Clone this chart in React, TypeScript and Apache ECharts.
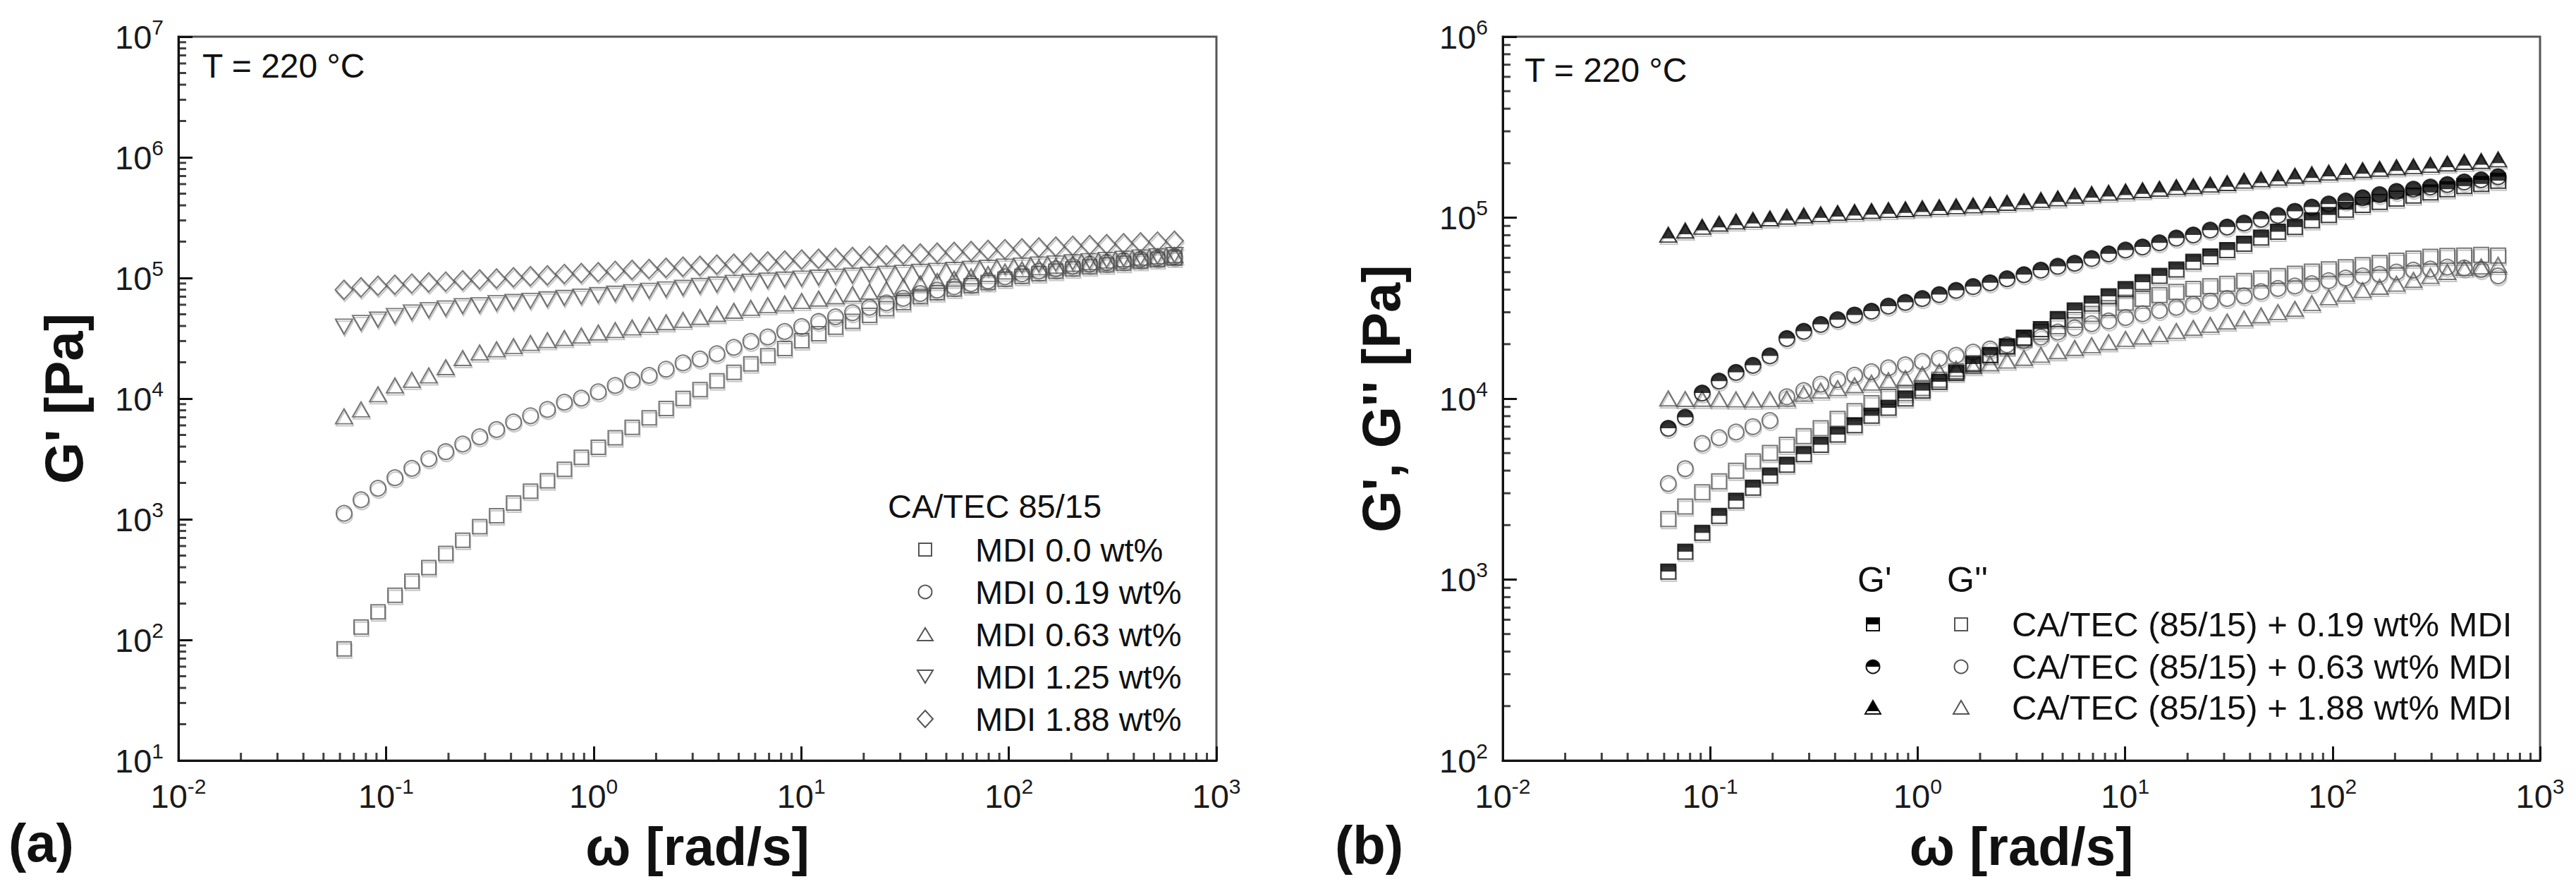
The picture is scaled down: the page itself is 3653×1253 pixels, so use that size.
import React, { useEffect, useRef } from 'react';
import * as echarts from 'echarts';

// ---------- data ----------
const OMEGA = [
  0.0628, 0.0758, 0.0915, 0.1104, 0.1332, 0.1607, 0.194, 0.2341, 0.2825, 0.3409,
  0.4114, 0.4965, 0.5991, 0.723, 0.8725, 1.053, 1.271, 1.533, 1.851, 2.234,
  2.696, 3.253, 3.926, 4.737, 5.717, 6.899, 8.326, 10.05, 12.13, 14.63,
  17.66, 21.31, 25.72, 31.03, 37.45, 45.19, 54.54, 65.81, 79.43, 95.85,
  115.7, 139.6, 168.5, 203.3, 245.3, 296.1, 357.3, 431.2, 520.3, 628.0,
];

// panel (a): G' of CA/TEC 85/15 with MDI
const A_MDI_000 = [
  84.3, 128, 171, 234, 307, 397, 521, 671, 869, 1070,
  1365, 1706, 2080, 2594, 3258, 3954, 4732, 5768, 6918, 8279,
  10050, 11890, 14060, 16520, 19410, 22650, 26000, 30130, 34510, 39080,
  43650, 48980, 55590, 62370, 69980, 75340, 80910, 86100, 91620, 97720,
  103000, 108400, 113500, 118900, 123600, 128200, 132400, 137100, 141600, 146200,
];
const A_MDI_019 = [
  1119, 1449, 1807, 2208, 2642, 3170, 3631, 4198, 4819, 5534,
  6397, 7211, 8128, 9333, 10090, 11380, 12850, 14220, 15560, 17540,
  19770, 21280, 23550, 26610, 29790, 32430, 35970, 39540, 43550, 47640,
  51520, 57150, 62090, 67760, 74300, 79250, 84530, 89540, 94410, 102100,
  108100, 114000, 119100, 124700, 130000, 134000, 138700, 142600, 146600, 150300,
];
const A_MDI_063 = [
  7129, 8128, 10860, 12850, 14320, 15560, 18200, 21680, 24100, 25640,
  27230, 28910, 30550, 31770, 33340, 35320, 36980, 38900, 40740, 42950,
  44980, 47530, 50350, 53460, 56490, 59430, 61520, 64420, 67450, 70470,
  73620, 77090, 80540, 85110, 90160, 94410, 98630, 103000, 107900, 113000,
  118000, 122500, 126200, 130900, 134900, 139300, 143200, 147200, 151000, 154500,
];
const A_MDI_125 = [
  39540, 42460, 45190, 48420, 51760, 54080, 55980, 58480, 59430, 61940,
  63240, 64710, 66530, 68390, 70150, 72110, 74130, 76210, 78340, 80540,
  82790, 85900, 88310, 91200, 93110, 95060, 97050, 98860, 100700, 102600,
  104500, 106400, 108400, 110400, 112500, 114600, 116700, 119100, 121600, 124200,
  126800, 129400, 132100, 134900, 138000, 141300, 144500, 147900, 151400, 154900,
];
const A_MDI_188 = [
  79800, 83750, 86300, 87900, 89950, 91830, 93330, 95720, 97270, 99080,
  101400, 103500, 105200, 107900, 109900, 111900, 114600, 116700, 118900, 121600,
  123900, 126200, 129100, 131500, 134000, 137100, 139600, 142200, 144500, 146900,
  149300, 152100, 154500, 157000, 159600, 162200, 164800, 167500, 170600, 173400,
  176200, 179100, 182000, 184900, 187900, 191000, 194100, 197200, 200400, 203700,
];

// panel (b): G' and G'' of CA/TEC (85/15) + MDI
const B_GP_019 = [
  1107, 1426, 1811, 2249, 2729, 3221, 3758, 4315, 4932, 5559,
  6324, 7129, 8035, 8892, 10020, 11070, 12390, 13870, 15520, 17380,
  19450, 21730, 24210, 27540, 30690, 33500, 36730, 40270, 43950, 47640,
  51640, 57020, 61090, 66220, 71780, 77620, 83560, 88720, 96600, 103500,
  110700, 117500, 122200, 127400, 132400, 137700, 143600, 149300, 153500, 160000,
];
const B_GPP_019 = [
  2158, 2535, 3034, 3491, 3990, 4498, 5012, 5559, 6194, 6855,
  7727, 8531, 9441, 10230, 10720, 11430, 12710, 14130, 15700, 17460,
  19410, 21480, 23330, 25120, 27230, 29380, 31620, 33880, 35650, 37330,
  38900, 40360, 41780, 43150, 44670, 46130, 47530, 48980, 50350, 51760,
  53210, 54700, 56230, 57810, 59430, 60810, 61380, 61660, 62230, 61660,
];
const B_GP_063 = [
  6855, 7889, 10740, 12500, 13960, 15280, 17220, 21480, 23550, 25700,
  27290, 28970, 30410, 32430, 34040, 35730, 37580, 39630, 41590, 43650,
  45920, 48420, 51290, 53830, 55980, 59430, 63100, 66220, 68870, 72610,
  77090, 80170, 85310, 88720, 93330, 97950, 102800, 108400, 114300, 118900,
  123600, 128800, 134000, 139600, 143600, 147600, 152400, 157400, 161800, 168300,
];
const B_GPP_063 = [
  3396, 4102, 5649, 6081, 6531, 6998, 7568, 10230, 11070, 12020,
  12740, 13460, 14090, 14790, 15380, 16030, 16670, 17340, 18070, 18790,
  19820, 20890, 21880, 23330, 24600, 25940, 26850, 28050, 29440, 30690,
  31920, 33190, 34590, 35730, 36980, 38990, 40640, 41880, 43150, 44870,
  46340, 47640, 48640, 50000, 51290, 52000, 53330, 52720, 51640, 47640,
];
const B_GP_188 = [
  80540, 84920, 89130, 92680, 95280, 97270, 99080, 101200, 102800, 104500,
  106200, 107600, 108900, 110200, 111400, 112700, 114300, 115600, 116900, 118300,
  120800, 123000, 125300, 127900, 132400, 135200, 137400, 139600, 141900, 144500,
  147600, 149300, 152400, 155200, 160000, 162900, 166300, 170600, 173800, 177400,
  180300, 183200, 186200, 190100, 192300, 195900, 199100, 203200, 205600, 209900,
];
const B_GPP_188 = [
  10020, 9950, 9980, 9920, 9900, 9880, 9920, 9990, 10640, 11070,
  11430, 11860, 12250, 12650, 13000, 13650, 14130, 14620, 15140, 15670,
  16220, 16790, 17460, 18280, 19050, 19720, 20510, 21380, 22030, 22700,
  23660, 24600, 25590, 26670, 27730, 28840, 30060, 31330, 33730, 36310,
  38020, 39810, 41500, 43150, 45290, 47640, 50120, 52720, 53700, 54830,
];

const LEGEND_A = ['MDI 0.0 wt%', 'MDI 0.19 wt%', 'MDI 0.63 wt%', 'MDI 1.25 wt%', 'MDI 1.88 wt%'];
const LEGEND_B = [
  'CA/TEC (85/15) + 0.19 wt% MDI',
  'CA/TEC (85/15) + 0.63 wt% MDI',
  'CA/TEC (85/15) + 1.88 wt% MDI',
];

// minor tick positions (2..9 x 10^k)
const MINOR_MULTS = [2, 3, 4, 5, 6, 7, 8, 9];
const X_DECADES = [-2, -1, 0, 1, 2];
const YA_DECADES = [1, 2, 3, 4, 5, 6];
const YB_DECADES = [2, 3, 4, 5];

// ---------- styling ----------
const FONT = '"Liberation Sans", Arial, Helvetica, sans-serif';
const BLACK = '#111';
const GRAY = '#555';
const SHADOW = { shadowColor: 'rgba(0,0,0,0.28)', shadowBlur: 1, shadowOffsetX: 1, shadowOffsetY: 3 };

const pts = (ys: number[]) => OMEGA.map((w, i) => [w, ys[i]]);

const powLabel = (v: number) => {
  const e = Math.round(Math.log10(v));
  return `{b|10}{e|${e}}`;
};
const RICH = {
  b: { fontSize: 47, fontFamily: FONT, color: '#1a1a1a', lineHeight: 58 },
  e: { fontSize: 30, fontFamily: FONT, color: '#1a1a1a', lineHeight: 30, verticalAlign: 'top' },
};

function openSeries(name: string, ys: number[], gi: number, symbol: string, size: any, color: string, extra: any = {}) {
  return {
    type: 'scatter', name, xAxisIndex: gi, yAxisIndex: gi, data: pts(ys),
    symbol, symbolSize: size, silent: true, z: 3, clip: false,
    itemStyle: { color: 'rgba(255,255,255,0)', borderColor: color, borderWidth: 2, ...SHADOW },
    ...extra,
  };
}
function fillSeries(name: string, ys: number[], gi: number, symbol: string, size: any, offset: any) {
  return {
    type: 'scatter', name, xAxisIndex: gi, yAxisIndex: gi, data: pts(ys),
    symbol, symbolSize: size, symbolOffset: offset, silent: true, z: 4, clip: false,
    itemStyle: { color: '#000', borderWidth: 0 },
  };
}
function minorX(gi: number, yMin: number) {
  const data: number[][] = [];
  X_DECADES.forEach((k) => MINOR_MULTS.forEach((m) => data.push([m * Math.pow(10, k), yMin])));
  return {
    type: 'scatter', xAxisIndex: gi, yAxisIndex: gi, data, symbol: 'rect', symbolSize: [3, 11],
    symbolOffset: [0, -5.5], silent: true, clip: false, z: 6, itemStyle: { color: BLACK },
  };
}
function minorY(gi: number, decades: number[]) {
  const data: number[][] = [];
  decades.forEach((k) => MINOR_MULTS.forEach((m) => data.push([0.01, m * Math.pow(10, k)])));
  return {
    type: 'scatter', xAxisIndex: gi, yAxisIndex: gi, data, symbol: 'rect', symbolSize: [11, 3],
    symbolOffset: [5.5, 0], silent: true, clip: false, z: 6, itemStyle: { color: BLACK },
  };
}

const xAxisCfg = (gi: number) => ({
  type: 'log', logBase: 10, gridIndex: gi, min: 0.01, max: 1000,
  axisLine: { show: true, onZero: false, lineStyle: { color: BLACK, width: 3 } },
  axisTick: { show: true, inside: true, length: 20, lineStyle: { color: BLACK, width: 3 } },
  splitLine: { show: false },
  axisLabel: { formatter: powLabel, margin: 21, rich: RICH, lineHeight: 58, showMinLabel: true, showMaxLabel: true },
  name: 'ω [rad/s]', nameLocation: 'middle', nameGap: 76,
  nameTextStyle: { fontSize: 76, fontWeight: 'bold', fontFamily: FONT, color: BLACK },
});
const yAxisCfg = (gi: number, min: number, max: number, name: string, gap: number) => ({
  type: 'log', logBase: 10, gridIndex: gi, min, max,
  axisLine: { show: true, onZero: false, lineStyle: { color: BLACK, width: 3 } },
  axisTick: { show: true, inside: true, length: 20, lineStyle: { color: BLACK, width: 3 } },
  splitLine: { show: false },
  axisLabel: { formatter: powLabel, margin: 21, rich: RICH, lineHeight: 58, showMinLabel: true, showMaxLabel: true },
  name, nameLocation: 'middle', nameGap: gap,
  nameTextStyle: { fontSize: 76, fontWeight: 'bold', fontFamily: FONT, color: BLACK },
});

const txt = (x: number, y: number, text: string, size: number, bold = false) => ({
  type: 'text', x, y, silent: true,
  style: {
    text, fontSize: size, fontFamily: FONT, fontWeight: bold ? 'bold' : 'normal', fill: BLACK,
    align: 'left', verticalAlign: 'middle', textAlign: 'left', textVerticalAlign: 'middle',
  },
});

function buildGraphic() {
  const g: any[] = [];
  // panel labels and annotations
  g.push(txt(12, 1194, '(a)', 76, true));
  g.push(txt(1893, 1197, '(b)', 76, true));
  g.push(txt(287, 93, 'T = 220 °C', 48));
  g.push(txt(2162, 99, 'T = 220 °C', 48));

  // legend (a)
  g.push(txt(1259, 717, 'CA/TEC 85/15', 47));
  const rowsA = [779, 839, 899, 959, 1019];
  const cx = 1312;
  const ls = { fill: 'none', stroke: GRAY, lineWidth: 2 };
  const r0 = rowsA[0], r1 = rowsA[1], r2 = rowsA[2], r3 = rowsA[3], r4 = rowsA[4];
  g.push({ type: 'rect', silent: true, shape: { x: cx - 9, y: r0 - 9, width: 18, height: 18 }, style: ls });
  g.push({ type: 'circle', silent: true, shape: { cx, cy: r1, r: 9.5 }, style: ls });
  g.push({ type: 'polygon', silent: true, shape: { points: [[cx, r2 - 9], [cx + 11, r2 + 9], [cx - 11, r2 + 9]] }, style: ls });
  g.push({ type: 'polygon', silent: true, shape: { points: [[cx - 11, r3 - 9], [cx + 11, r3 - 9], [cx, r3 + 9]] }, style: ls });
  g.push({ type: 'polygon', silent: true, shape: { points: [[cx, r4 - 12], [cx + 11, r4], [cx, r4 + 12], [cx - 11, r4]] }, style: ls });
  LEGEND_A.forEach((t, i) => g.push(txt(1383, rowsA[i], t, 47)));

  // legend (b)
  g.push(txt(2634, 822, "G'", 50));
  g.push(txt(2761, 822, "G''", 50));
  const rowsB = [885, 945, 1003];
  const c1 = 2656, c2 = 2781;
  const lb = { fill: 'none', stroke: BLACK, lineWidth: 2 };
  const q0 = rowsB[0], q1 = rowsB[1], q2 = rowsB[2];
  // squares
  g.push({ type: 'rect', silent: true, shape: { x: c1 - 9, y: q0 - 9, width: 18, height: 9 }, style: { fill: '#000' } });
  g.push({ type: 'rect', silent: true, shape: { x: c1 - 9, y: q0 - 9, width: 18, height: 18 }, style: lb });
  g.push({ type: 'rect', silent: true, shape: { x: c2 - 9, y: q0 - 9, width: 18, height: 18 }, style: ls });
  // circles
  g.push({ type: 'sector', silent: true, shape: { cx: c1, cy: q1, r: 9.5, r0: 0, startAngle: Math.PI, endAngle: Math.PI * 2 }, style: { fill: '#000' } });
  g.push({ type: 'circle', silent: true, shape: { cx: c1, cy: q1, r: 9.5 }, style: lb });
  g.push({ type: 'circle', silent: true, shape: { cx: c2, cy: q1, r: 9.5 }, style: ls });
  // triangles
  g.push({ type: 'polygon', silent: true, shape: { points: [[c1, q2 - 10], [c1 + 8, q2 + 5], [c1 - 8, q2 + 5]] }, style: { fill: '#000' } });
  g.push({ type: 'polygon', silent: true, shape: { points: [[c1, q2 - 10], [c1 + 11, q2 + 9], [c1 - 11, q2 + 9]] }, style: lb });
  g.push({ type: 'polygon', silent: true, shape: { points: [[c2, q2 - 10], [c2 + 11, q2 + 9], [c2 - 11, q2 + 9]] }, style: ls });
  LEGEND_B.forEach((t, i) => g.push(txt(2853, rowsB[i], t, 49)));
  return g;
}

const HALF_CIRCLE = 'path://M0,10A10,10,0,0,1,20,10Z';

function buildOption() {
  const series: any[] = [
    // panel (a)
    openSeries(LEGEND_A[0], A_MDI_000, 0, 'rect', 20, GRAY),
    openSeries(LEGEND_A[1], A_MDI_019, 0, 'circle', 22, GRAY),
    openSeries(LEGEND_A[2], A_MDI_063, 0, 'triangle', [24, 21], GRAY),
    openSeries(LEGEND_A[3], A_MDI_125, 0, 'triangle', [24, 21], GRAY, { symbolRotate: 180 }),
    openSeries(LEGEND_A[4], A_MDI_188, 0, 'diamond', [25, 27], GRAY),
    // panel (b) G''
    openSeries("G'' 0.19", B_GPP_019, 1, 'rect', 21, GRAY),
    openSeries("G'' 0.63", B_GPP_063, 1, 'circle', 22, GRAY),
    openSeries("G'' 1.88", B_GPP_188, 1, 'triangle', [24, 21], GRAY),
    // panel (b) G' (half filled)
    openSeries("G' 0.19", B_GP_019, 1, 'rect', 21, BLACK),
    fillSeries("G' 0.19 fill", B_GP_019, 1, 'rect', [21, 10.5], [0, -5.25]),
    openSeries("G' 0.63", B_GP_063, 1, 'circle', 22, BLACK),
    fillSeries("G' 0.63 fill", B_GP_063, 1, HALF_CIRCLE, [22, 11], [0, -5.5]),
    openSeries("G' 1.88", B_GP_188, 1, 'triangle', [24, 21], BLACK),
    fillSeries("G' 1.88 fill", B_GP_188, 1, 'triangle', [18, 15.75], [0, -2.6]),
    // minor ticks
    minorX(0, 10), minorY(0, YA_DECADES),
    minorX(1, 100), minorY(1, YB_DECADES),
  ];
  return {
    animation: false,
    backgroundColor: '#fff',
    textStyle: { fontFamily: FONT },
    grid: [
      { left: 253, top: 52, width: 1472, height: 1026, show: true, borderColor: GRAY, borderWidth: 3, backgroundColor: 'transparent' },
      { left: 2131, top: 52, width: 1471, height: 1026, show: true, borderColor: GRAY, borderWidth: 3, backgroundColor: 'transparent' },
    ],
    xAxis: [xAxisCfg(0), xAxisCfg(1)],
    yAxis: [
      yAxisCfg(0, 10, 1e7, "G' [Pa]", 125),
      yAxisCfg(1, 100, 1e6, "G', G'' [Pa]", 135),
    ],
    series,
    graphic: buildGraphic(),
  };
}

export default function App() {
  const ref = useRef<HTMLDivElement>(null);
  useEffect(() => {
    document.body.style.margin = '0';
    const chart = echarts.init(ref.current as HTMLDivElement, null, { renderer: 'svg' });
    chart.setOption(buildOption() as any);
    return () => chart.dispose();
  }, []);
  return <div ref={ref} style={{ width: 3653, height: 1253, background: '#fff' }} />;
}
